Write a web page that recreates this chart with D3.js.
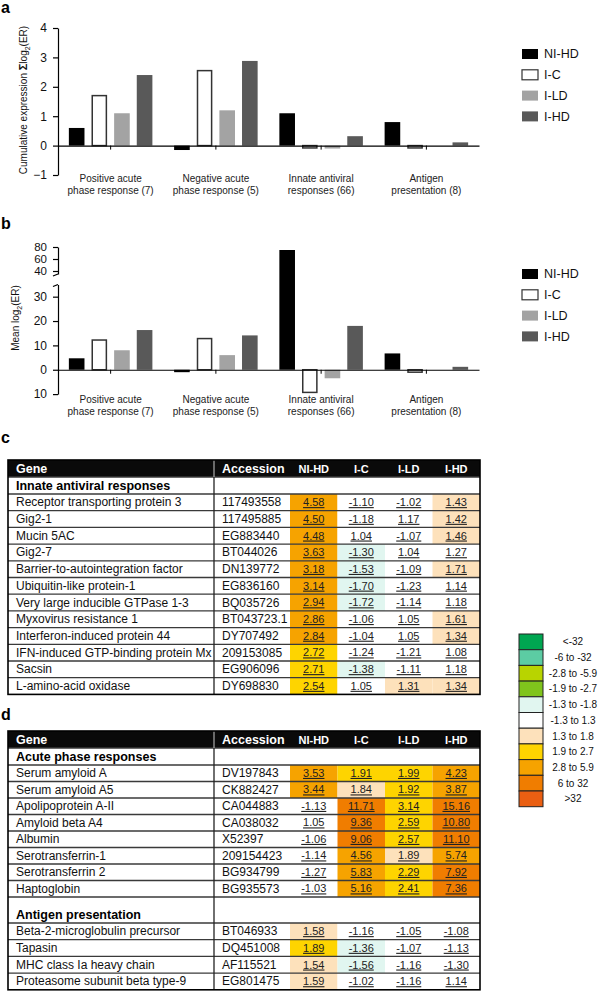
<!DOCTYPE html>
<html><head><meta charset="utf-8">
<script src="https://cdn.jsdelivr.net/npm/d3@7"></script>
<style>body{margin:0;background:#fff}svg{display:block;font-family:"Liberation Sans",Arial,Helvetica,sans-serif}</style>
</head><body><svg id="c" width="600" height="991"></svg>
<script>
// ---------- DATA ----------
const categories = ["Positive acute phase response (7)","Negative acute phase response (5)","Innate antiviral responses (66)","Antigen presentation (8)"];
const categoryLines = [["Positive acute","phase response (7)"],["Negative acute","phase response (5)"],["Innate antiviral","responses (66)"],["Antigen","presentation (8)"]];
const series = ["NI-HD","I-C","I-LD","I-HD"];
// panel a: cumulative expression
const cumNIHD = [0.6, -0.15, 1.1, 0.8];
const cumIC   = [1.7, 2.55, -0.08, -0.08];
const cumILD  = [1.1, 1.2, -0.1, 0.0];
const cumIHD  = [2.4, 2.88, 0.32, 0.11];
const aTicks = [-1,0,1,2,3,4];
// panel b: mean log2(ER)
const meanNIHD = [4.7, -1.0, 75, 6.7];
const meanIC   = [12.2, 12.8, -9.3, -1.0];
const meanILD  = [8.0, 6.0, -3.5, 0.0];
const meanIHD  = [16.3, 14.1, 18.0, 1.2];
const bTicksLow = [-10,0,10,20,30];
const bTicksUp = [40,60,80];
// table c
const cSections = ["Innate antiviral responses"];
const cSectionSizes = [12];
const cGenes = ["Receptor transporting protein 3","Gig2-1","Mucin 5AC","Gig2-7","Barrier-to-autointegration factor","Ubiquitin-like protein-1","Very large inducible GTPase 1-3","Myxovirus resistance 1","Interferon-induced protein 44","IFN-induced GTP-binding protein Mx","Sacsin","L-amino-acid oxidase"];
const cAcc = ["117493558","117495885","EG883440","BT044026","DN139772","EG836160","BQ035726","BT043723.1","DY707492","209153085","EG906096","DY698830"];
const cVals = [[4.58,-1.10,-1.02,1.43],[4.50,-1.18,1.17,1.42],[4.48,1.04,-1.07,1.46],[3.63,-1.30,1.04,1.27],[3.18,-1.53,-1.09,1.71],[3.14,-1.70,-1.23,1.14],[2.94,-1.72,-1.14,1.18],[2.86,-1.06,1.05,1.61],[2.84,-1.04,1.05,1.34],[2.72,-1.24,-1.21,1.08],[2.71,-1.38,-1.11,1.18],[2.54,1.05,1.31,1.34]];
const cBins = [["o","w","w","p"],["o","w","w","p"],["o","w","w","p"],["o","c","w","w"],["o","c","w","p"],["o","c","w","w"],["o","c","w","w"],["o","w","w","p"],["o","w","w","p"],["y","w","w","w"],["y","c","w","w"],["y","w","p","p"]];
// table d
const dSections = ["Acute phase responses","Antigen presentation"];
const dSectionSizes = [8,4];
const dGenes = ["Serum amyloid A","Serum amyloid A5","Apolipoprotein A-II","Amyloid beta A4","Albumin","Serotransferrin-1","Serotransferrin 2","Haptoglobin","Beta-2-microglobulin precursor","Tapasin","MHC class Ia heavy chain","Proteasome subunit beta type-9"];
const dAcc = ["DV197843","CK882427","CA044883","CA038032","X52397","209154423","BG934799","BG935573","BT046933","DQ451008","AF115521","EG801475"];
const dVals = [[3.53,1.91,1.99,4.23],[3.44,1.84,1.92,3.87],[-1.13,11.71,3.14,15.16],[1.05,9.36,2.59,10.80],[-1.06,9.06,2.57,11.10],[-1.14,4.56,1.89,5.74],[-1.27,5.83,2.29,7.92],[-1.03,5.16,2.41,7.36],[1.58,-1.16,-1.05,-1.08],[1.89,-1.36,-1.07,-1.13],[1.54,-1.56,-1.16,-1.30],[1.59,-1.02,-1.16,1.14]];
const dBins = [["o","y","y","o"],["o","p","y","o"],["w","d","y","d"],["w","d","y","d"],["w","d","y","d"],["w","o","p","o"],["w","o","y","d"],["w","o","y","d"],["p","w","w","w"],["y","c","w","w"],["p","c","w","w"],["p","w","w","w"]];
// colour key
const keyLabels = ["<-32","-6 to -32","-2.8 to -5.9","-1.9 to -2.7","-1.3 to -1.8","-1.3 to 1.3","1.3 to 1.8","1.9 to 2.7","2.8 to 5.9","6 to 32",">32"];
const keyCodes = ["g","t","yg","lg","c","w","p","y","o","d","r"];

// ---------- STYLES ----------
const barColor = d3.scaleOrdinal().domain(series).range(["#000000","#ffffff","#a3a3a3","#595959"]);
const binColor = d3.scaleOrdinal().domain(keyCodes).range(["#00a651","#5ccca3","#b8d400","#80c41c","#e1f6f0","#ffffff","#fde1bb","#fed400","#f6a300","#f07d00","#ea5f12"]);

const svg = d3.select("#c");

function panelLetter(t, x, y){
  svg.append("text").attr("x",x).attr("y",y).attr("font-size",16).attr("font-weight","bold").text(t);
}

// ---------- BAR CHART ----------
function barChart(cfg){
  const g = svg.append("g");
  const x0 = d3.scaleBand().domain(d3.range(categories.length)).range([58,479]);
  const x1 = d3.scaleBand().domain(series).range([0,x0.bandwidth()]).paddingInner(0.31).paddingOuter(0.48);
  const y = cfg.y;
  const y0 = y(0);
  const data = [];
  series.forEach((s,si)=>cfg.values[si].forEach((v,ci)=>data.push({s,ci,v})));
  g.selectAll("rect.bar").data(data).join("rect").attr("class","bar")
    .attr("x",d=>x0(d.ci)+x1(d.s)+(d.s==="I-C"?0.75:0))
    .attr("width",d=>x1.bandwidth()-(d.s==="I-C"?1.5:0))
    .attr("y",d=>Math.min(y(d.v),y0))
    .attr("height",d=>Math.abs(y(d.v)-y0))
    .attr("fill",d=>barColor(d.s))
    .attr("stroke",d=>d.s==="I-C"?"#333":"none")
    .attr("stroke-width",1.5);
  // x axis at zero
  const xa = g.append("g").attr("transform",`translate(0,${y0})`)
    .call(d3.axisBottom(x0).tickSize(4).tickSizeOuter(0).tickFormat(""));
  xa.select(".domain").attr("stroke","#000").attr("stroke-width",1.2);
  xa.selectAll(".tick line").attr("stroke","#000");
  // category labels
  const lab = g.selectAll("text.cat").data(categoryLines).join("text").attr("class","cat")
    .attr("text-anchor","middle").attr("font-size",10).attr("fill","#222");
  lab.each(function(d,i){
    d3.select(this).selectAll("tspan").data(d).join("tspan")
      .attr("x",x0(i)+x0.bandwidth()/2).attr("y",(t,j)=>cfg.labelY+j*12).text(t=>t);
  });
  // legend
  const lg = g.selectAll("g.leg").data(series).join("g").attr("class","leg")
    .attr("transform",(d,i)=>`translate(522,${cfg.legY + i*20.8})`);
  lg.append("rect").attr("x",0).attr("y",-5).attr("width",16).attr("height",10)
    .attr("fill",d=>barColor(d)).attr("stroke",d=>d==="I-C"?"#333":"none").attr("stroke-width",1.2);
  lg.append("text").attr("x",22).attr("y",0).attr("dy","0.35em").attr("font-size",12.5).attr("fill","#111").text(d=>d);
  return g;
}
function styleAxis(sel){
  sel.select(".domain").attr("stroke","#000").attr("stroke-width",1.2);
  sel.selectAll(".tick line").attr("stroke","#000").attr("stroke-width",1.2);
  sel.selectAll(".tick text").attr("font-size",12).attr("fill","#111").attr("font-family",null);
}

// panel a
panelLetter("a",1,13);
const ya = d3.scaleLinear().domain([-1,4]).range([175,28]);
const ga = barChart({y:ya, values:[cumNIHD,cumIC,cumILD,cumIHD], labelY:182, legY:54});
ga.append("g").attr("transform","translate(58,0)")
  .call(d3.axisLeft(ya).tickValues(aTicks).tickFormat(d3.format("d")).tickSize(5).tickPadding(6).tickSizeOuter(0)).call(styleAxis);
const ta = ga.append("text").attr("transform","translate(27,100) rotate(-90)").attr("text-anchor","middle").attr("font-size",10).attr("fill","#111");
ta.append("tspan").text("Cumulative expression  ");
ta.append("tspan").attr("font-weight","bold").attr("font-size",11).text("Σ");
ta.append("tspan").text("log");
ta.append("tspan").attr("font-size",7).attr("dy",3).text("2");
ta.append("tspan").attr("dy",-3).text("(ER)");

// panel b
panelLetter("b",1,229);
const yLow = d3.scaleLinear().domain([-10,35]).range([394.1,284.5]);
const yUp = d3.scaleLinear().domain([35,80]).range([274,247]);
const yb = v => v<=35 ? yLow(v) : yUp(v);
const gb = barChart({y:yb, values:[meanNIHD,meanIC,meanILD,meanIHD], labelY:403, legY:274});
gb.append("g").attr("transform","translate(58,0)")
  .call(d3.axisLeft(yLow).tickValues(bTicksLow).tickFormat(d=>Math.abs(d)).tickSize(5).tickPadding(6).tickSizeOuter(0)).call(styleAxis);
gb.append("g").attr("transform","translate(58,0)")
  .call(d3.axisLeft(yUp).tickValues(bTicksUp).tickSize(5).tickPadding(6).tickSizeOuter(0)).call(styleAxis)
  .selectAll(".tick text").attr("font-size",11.5);
gb.append("line").attr("x1",53).attr("x2",58).attr("y1",yUp(35)+2).attr("y2",yUp(35)).attr("stroke","#000").attr("stroke-width",1.2);
gb.append("line").attr("x1",53).attr("x2",58).attr("y1",yLow(35)+2).attr("y2",yLow(35)).attr("stroke","#000").attr("stroke-width",1.2);
const tb = gb.append("text").attr("transform","translate(19,318) rotate(-90)").attr("text-anchor","middle").attr("font-size",10).attr("fill","#111");
tb.append("tspan").text("Mean log");
tb.append("tspan").attr("font-size",7).attr("dy",3).text("2");
tb.append("tspan").attr("dy",-3).text("(ER)");

// ---------- TABLES ----------
function drawTable(top, sections, sizes, layout, genes, acc, vals, bins){
  const g = svg.append("g");
  const L = 8, R = 480, accX = 214;
  const xc = d3.scaleBand().domain(series).range([290,R]);
  const rows = [];
  let y = top;
  rows.push({type:"header", y, h:17}); y += 17;
  let k = 0;
  sections.forEach((s,si)=>{
    const sh = layout.secH[si];
    rows.push({type:"section", y, h:sh, title:s}); y += sh;
    for(let i=0;i<sizes[si];i++){ rows.push({type:"data", y, h:layout.rowH[si], idx:k++}); y += layout.rowH[si]; }
  });
  const bottom = y;
  const dataRows = rows.filter(r=>r.type==="data");
  g.append("rect").attr("x",L).attr("y",top).attr("width",R-L).attr("height",17).attr("fill","#0a0a0a");
  const cells = [];
  dataRows.forEach(r=>series.forEach((s,si)=>cells.push({r,s,v:vals[r.idx][si],b:bins[r.idx][si]})));
  g.selectAll("rect.cell").data(cells).join("rect").attr("class","cell")
    .attr("x",d=>xc(d.s)).attr("y",d=>d.r.y).attr("width",xc.bandwidth()).attr("height",d=>d.r.h)
    .attr("fill",d=>binColor(d.b));
  g.selectAll("line.h").data(rows.slice(1).map(r=>r.y)).join("line").attr("class","h")
    .attr("x1",L).attr("x2",R).attr("y1",d=>d).attr("y2",d=>d).attr("stroke","#3a3a3a").attr("stroke-width",1.3);
  g.append("line").attr("x1",accX).attr("x2",accX).attr("y1",top+17).attr("y2",bottom).attr("stroke","#222").attr("stroke-width",1.3);
  g.append("line").attr("x1",accX).attr("x2",accX).attr("y1",top).attr("y2",top+17).attr("stroke","#aaa").attr("stroke-width",1.2);
  g.append("rect").attr("x",L).attr("y",top).attr("width",R-L).attr("height",bottom-top).attr("fill","none").attr("stroke","#000").attr("stroke-width",1.6);
  g.append("text").attr("x",16).attr("y",top+12.8).attr("fill","#fff").attr("font-weight","bold").attr("font-size",12.5).text("Gene");
  g.append("text").attr("x",222).attr("y",top+12.8).attr("fill","#fff").attr("font-weight","bold").attr("font-size",12.5).text("Accession");
  g.selectAll("text.hc").data(series).join("text").attr("class","hc")
    .attr("x",d=>xc(d)+xc.bandwidth()/2).attr("y",top+12.5).attr("text-anchor","middle")
    .attr("fill","#fff").attr("font-weight","bold").attr("font-size",11).text(d=>d);
  g.selectAll("text.sec").data(rows.filter(r=>r.type==="section")).join("text").attr("class","sec")
    .attr("x",16).attr("y",d=>d.y+d.h-4.2).attr("font-weight","bold").attr("font-size",12.5).attr("fill","#000").text(d=>d.title);
  g.selectAll("text.gene").data(dataRows).join("text").attr("class","gene")
    .attr("x",16).attr("y",d=>d.y+d.h-4.4).attr("font-size",12).attr("fill","#111").text(d=>genes[d.idx]);
  g.selectAll("text.acc").data(dataRows).join("text").attr("class","acc")
    .attr("x",222).attr("y",d=>d.y+d.h-4.4).attr("font-size",12).attr("fill","#111").text(d=>acc[d.idx]);
  g.selectAll("text.val").data(cells).join("text").attr("class","val")
    .attr("x",d=>xc(d.s)+xc.bandwidth()/2).attr("y",d=>d.r.y+d.r.h-4.6).attr("text-anchor","middle")
    .attr("font-size",11).attr("fill","#222").style("text-decoration","underline").text(d=>d.v.toFixed(2));
}
panelLetter("c",1,443);
drawTable(460, cSections, cSectionSizes, {secH:[17], rowH:[16.7]}, cGenes, cAcc, cVals, cBins);
panelLetter("d",1,720);
drawTable(731, dSections, dSectionSizes, {secH:[17,26], rowH:[16.5,16.7]}, dGenes, dAcc, dVals, dBins);

// ---------- COLOUR KEY ----------
const keyY = d3.scaleBand().domain(keyCodes).range([634,634+15.7*keyCodes.length]);
const kg = svg.append("g");
kg.selectAll("rect").data(keyCodes).join("rect")
  .attr("x",519).attr("y",d=>keyY(d)).attr("width",24).attr("height",keyY.bandwidth())
  .attr("fill",d=>binColor(d)).attr("stroke","#222").attr("stroke-width",1);
kg.selectAll("text").data(keyLabels).join("text")
  .attr("x",573).attr("y",(d,i)=>keyY(keyCodes[i])+keyY.bandwidth()/2).attr("dy","0.35em")
  .attr("text-anchor","middle").attr("font-size",10).attr("fill","#111").text(d=>d);
</script>
</body></html>
